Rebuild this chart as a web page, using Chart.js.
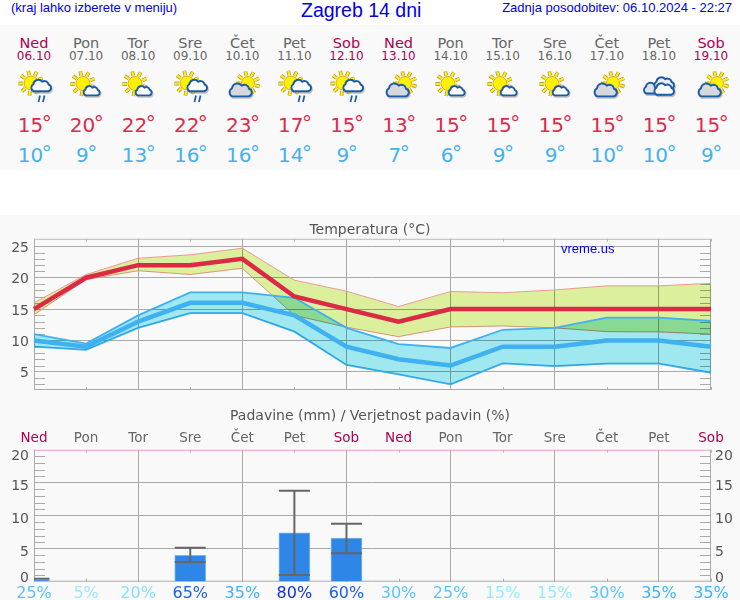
<!DOCTYPE html>
<html><head><meta charset="utf-8">
<script src="https://cdn.jsdelivr.net/npm/chart.js@4"></script>
<style>
html,body{margin:0;padding:0;background:#fff;width:740px;height:600px;overflow:hidden}
.a{position:absolute;white-space:nowrap}
.head{font-family:"Liberation Sans",Arial,sans-serif;color:#0000ee;font-size:13px;line-height:16px}
.c{width:80px;text-align:center;font-family:"DejaVu Sans",sans-serif}
.deg{position:relative;top:-2px;margin-left:-1.5px;margin-right:-1.3px}
canvas{position:absolute;left:0}
</style></head><body>
<div class="a" style="left:0;top:25px;width:740px;height:145px;background:#f9f9f9"></div>
<div class="a" style="left:0;top:215px;width:740px;height:385px;background:#f9f9f9"></div>
<div class="a head" style="left:11px;top:0">(kraj lahko izberete v meniju)</div>
<div class="a head" style="left:301px;top:-1px;font-size:19.5px;line-height:22px">Zagreb 14 dni</div>
<div class="a head" style="right:8px;top:0">Zadnja posodobitev: 06.10.2024 - 22:27</div>
<div id="hdr"></div>
<canvas id="t" width="740" height="175" style="top:215px"></canvas>
<canvas id="p" width="740" height="200" style="top:400px"></canvas>
<div class="a head" style="left:561px;top:241px">vreme.us</div>
<script>
const days=['Ned','Pon','Tor','Sre','Čet','Pet','Sob','Ned','Pon','Tor','Sre','Čet','Pet','Sob'];
const dates=['06.10','07.10','08.10','09.10','10.10','11.10','12.10','13.10','14.10','15.10','16.10','17.10','18.10','19.10'];
const icons=['r','s','s','r','c','r','r','c','s','s','s','c','o','c'];
const highs=[15,20,22,22,23,17,15,13,15,15,15,15,15,15];
const lows=[10,9,13,16,16,14,9,7,6,9,9,10,10,9];
const highUpper=[16,20.5,23.1,23.65,24.7,19.6,17.85,15.4,17.8,17.6,18.05,18.7,18.7,19.1];
const highLower=[14.1,19.7,21.1,20.5,21.5,14,12.1,10.6,12.15,12.3,12,11.4,11.35,11];
const lowUpper=[11,9.5,14,17.65,17.65,16.8,12,9.4,8.8,11.7,12,13.65,13.65,13.1];
const lowLower=[9,8.5,12,14.35,14.35,11.4,6.1,4.6,3,6.35,5.9,6.3,6.3,4.85];
const rainAmount=[0.3,0,0,4,0,7.4,6.6,0,0,0,0,0,0,0];
const rainHigh=[0.45,null,null,5.15,null,13.8,8.8,null,null,null,null,null,null,null];
const rainLow=[0.45,null,null,3,null,1,4.3,null,null,null,null,null,null,null];
const rainProb=[25,5,20,65,35,80,60,30,25,15,15,30,35,35];
const tempTicks=[5,10,15,20,25];
const rainTicks=[0,5,10,15,20];

const weekend='#b00050', plain='#666666', gridCol='#aaaaaa';
const dayColor=i=>(days[i]==='Ned'||days[i]==='Sob')?weekend:plain;
const probColor=v=>v>=80?'#1030dd':v>=60?'#1f5fe6':v>=35?'#3fb2fb':v>=25?'#57c6fb':v>=20?'#86def9':'#9ae9fb';

function cloud(cx,cy,s,fill){
  const d='M-9 6A5 5 0 0 1-9.5-3A6.2 6.2 0 0 1 1.5-6A5.2 5.2 0 0 1 9.5-2.5A4.4 4.4 0 0 1 9 6Z';
  return `<path d="${d}" transform="translate(${cx+.8} ${cy+1.4}) scale(${s})" fill="#888" opacity=".5" stroke="#888" stroke-width="${2/s}"/>`+
         `<path d="${d}" transform="translate(${cx} ${cy}) scale(${s})" fill="${fill}" stroke="#1a5ca8" stroke-width="${1.9/s}"/>`;
}
function sun(cx,cy,r){
  let out='';
  for(let k=0;k<9;k++){
    const an=k*2*Math.PI/9+.3, c=Math.cos(an), si=Math.sin(an);
    const l=`x1="${cx+c*(r+1)}" y1="${cy+si*(r+1)}" x2="${cx+c*(r+5.5)}" y2="${cy+si*(r+5.5)}"`;
    out+=`<line ${l} stroke="#9c8a30" stroke-width="3.6"/><line ${l} stroke="#ffec12" stroke-width="2.3"/>`;
  }
  return out+`<circle cx="${cx}" cy="${cy}" r="${r}" fill="#fff200" stroke="#eda70c" stroke-width="1"/>`;
}
function iconSvg(t){
  let b='';
  if(t==='r'){
    b=sun(19,16,7)+cloud(29,19.5,.8,'#fff')+
      '<path d="M26.5 35L28 28.5M31 35L32.5 28.5" stroke="#1a5ca8" stroke-width="1.7" fill="none"/>';
  }else if(t==='s'){
    b=sun(19,16.5,7)+cloud(27.5,24.5,.65,'#fff');
  }else if(t==='c'){
    b=sun(28,16,6.5)+cloud(20.5,24,.9,'#d6d8dc');
  }else{
    b=cloud(16,22,.75,'#dfe2e6')+cloud(27,17,.8,'#eef0f3')+cloud(27,23,.8,'#fff');
  }
  return `<svg width="44" height="40" viewBox="0 0 44 40" style="position:absolute;left:18px;top:0">${b}</svg>`;
}
const hdr=document.getElementById('hdr');
days.forEach((d,i)=>{
  const x=34+i*52.08-40;
  const el=(top,size,color,txt)=>`<div class="a c" style="left:${x}px;top:${top}px;font-size:${size}px;line-height:18px;color:${color}">${txt}</div>`;
  const t=v=>`${v}<span class="deg">°</span>`;
  hdr.insertAdjacentHTML('beforeend',
    el(34,14.5,dayColor(i),d)+
    el(46.5,12,dayColor(i),dates[i])+
    `<div class="a" style="left:${x}px;top:67px;width:80px;height:40px">${iconSvg(icons[i])}</div>`+
    el(115.5,20,'#dd2a48',t(highs[i]))+
    el(145.5,20,'#45b0f0',t(lows[i])));
});

const tickMarks={
  id:'tickMarks',
  beforeDatasetsDraw(chart,a,o){
    const {ctx,chartArea:c,scales:{x,y}}=chart;
    ctx.save();ctx.lineWidth=1;ctx.strokeStyle=gridCol;
    for(let v=Math.ceil(y.min);v<=Math.floor(y.max);v++){
      if(v%5===0||v===Math.floor(y.max)&&o.skipTop) continue;
      const p=Math.round(y.getPixelForValue(v))+.5;
      ctx.beginPath();ctx.moveTo(c.left,p);ctx.lineTo(c.left+11,p);
      ctx.moveTo(c.right-11,p);ctx.lineTo(c.right,p);ctx.stroke();
    }
    for(let i=1;i<days.length;i+=2){
      const p=Math.round(x.getPixelForValue(i))+.5;
      ctx.strokeStyle=gridCol;
      ctx.beginPath();ctx.moveTo(p,c.bottom-3);ctx.lineTo(p,c.bottom);ctx.stroke();
      ctx.strokeStyle=o.topColor;
      ctx.beginPath();ctx.moveTo(p,c.top);ctx.lineTo(p,c.top+3);ctx.stroke();
    }
    ctx.strokeStyle=gridCol;
    ctx.beginPath();
    ctx.moveTo(c.left+.5,c.top);ctx.lineTo(c.left+.5,c.bottom);
    ctx.moveTo(c.right-.5,c.top);ctx.lineTo(c.right-.5,c.bottom);
    ctx.moveTo(c.left,c.bottom-.5);ctx.lineTo(c.right,c.bottom-.5);ctx.stroke();
    ctx.strokeStyle=o.topColor;
    ctx.beginPath();ctx.moveTo(c.left,c.top+.5);ctx.lineTo(c.right,c.top+.5);ctx.stroke();
    ctx.restore();
  }
};
const blendBands={
  id:'blendBands',
  beforeDatasetsDraw(chart){chart.ctx.globalCompositeOperation='multiply';},
  beforeDatasetDraw(chart){chart.ctx.globalCompositeOperation='source-over';},
  afterDatasetDraw(chart){chart.ctx.globalCompositeOperation='multiply';},
  afterDatasetsDraw(chart){chart.ctx.globalCompositeOperation='source-over';}
};
const sideLabels={
  id:'sideLabels',
  afterDraw(chart,a,o){
    const {ctx,scales:{y},chartArea:c}=chart;
    ctx.save();ctx.fillStyle='#555';ctx.font='14px "DejaVu Sans"';ctx.textBaseline='middle';
    o.values.forEach(v=>{
      const p=y.getPixelForValue(v)+(o.shift[v]||0);
      ctx.textAlign='right';ctx.fillText(String(v),c.left-5,p);
      if(o.both){ctx.textAlign='left';ctx.fillText(String(v),c.right+4,p);}
    });
    ctx.restore();
  }
};
const gridOf=i=>i%2===0&&i>0&&i<days.length-1?gridCol:'rgba(0,0,0,0)';
const fixWidth=w=>s=>{s.width=w;s.paddingTop=0;s.paddingBottom=0;};
const setTicks=list=>s=>{s.ticks=list.map(v=>({value:v}));};
const titleFont={family:'"DejaVu Sans"',size:14,weight:'normal'};
const spacer=(min,max)=>({type:'linear',position:'right',min,max,display:true,
  border:{display:false},grid:{display:false,drawTicks:false},ticks:{display:false},afterFit:fixWidth(29)});

new Chart(document.getElementById('t'),{
  type:'line',
  data:{labels:days,datasets:[
    {data:highs,borderColor:'#dc2a46',borderWidth:4.5,pointRadius:0,fill:false,tension:0},
    {data:lows,borderColor:'#3fb0f0',borderWidth:4.5,pointRadius:0,fill:false,tension:0},
    {data:lowUpper,borderColor:'#3fb0f0',borderWidth:1.8,pointRadius:0,fill:'+1',backgroundColor:'#9fe8f0',tension:0},
    {data:lowLower,borderColor:'#3fb0f0',borderWidth:1.8,pointRadius:0,fill:false,tension:0},
    {data:highUpper,borderColor:'#eb9a94',borderWidth:1,pointRadius:0,fill:'+1',backgroundColor:'#dbef9c',tension:0},
    {data:highLower,borderColor:'#eb9a94',borderWidth:1,pointRadius:0,fill:false,tension:0}
  ]},
  options:{
    responsive:false,animation:false,events:[],
    plugins:{legend:{display:false},tooltip:{enabled:false},
      title:{display:true,text:'Temperatura (°C)',color:'#555',font:titleFont,padding:{top:6.5,bottom:0.5}},
      tickMarks:{topColor:'#bbbbbb',skipTop:true},
      sideLabels:{values:tempTicks,shift:{5:2,10:2,15:2,20:2,25:2},both:false}},
    scales:{
      x:{type:'category',offset:false,display:true,
        ticks:{display:false},border:{display:false},
        grid:{drawTicks:false,offset:false,color:c=>gridOf(c.index),lineWidth:1},
        afterFit:s=>{s.height=0;}},
      y:{type:'linear',min:2.1,max:26.2,
        border:{display:false},
        grid:{drawTicks:false,color:gridCol,lineWidth:1},
        ticks:{display:false},
        afterBuildTicks:setTicks(tempTicks),
        afterFit:fixWidth(34)},
      yr:spacer(2.1,26.2)
    }
  },
  plugins:[tickMarks,blendBands,sideLabels]
});

const whiskers={
  id:'whiskers',
  afterDatasetsDraw(chart){
    const {ctx,scales:{x,y},chartArea:c}=chart;
    ctx.save();ctx.strokeStyle='#666';ctx.lineWidth=2;
    ctx.beginPath();ctx.rect(c.left,c.top,c.width,c.height);ctx.clip();
    rainHigh.forEach((h,i)=>{
      if(h===null) return;
      const px=x.getPixelForValue(i),hi=y.getPixelForValue(h),lo=y.getPixelForValue(rainLow[i]);
      ctx.beginPath();
      ctx.moveTo(px,hi);ctx.lineTo(px,lo);
      ctx.moveTo(px-15.5,hi);ctx.lineTo(px+15.5,hi);
      ctx.moveTo(px-15.5,lo);ctx.lineTo(px+15.5,lo);
      ctx.stroke();
    });
    ctx.restore();
  }
};
new Chart(document.getElementById('p'),{
  type:'bar',
  data:{datasets:[{data:rainAmount,xAxisID:'x',yAxisID:'y',backgroundColor:'#2e86e6',
    borderColor:'#7fb5ef',borderWidth:{left:1,right:1,top:1,bottom:0},barThickness:31}]},
  options:{
    responsive:false,animation:false,events:[],
    plugins:{legend:{display:false},tooltip:{enabled:false},
      title:{display:true,text:'Padavine (mm) / Verjetnost padavin (%)',color:'#555',font:titleFont,padding:{top:8,bottom:2}},
      tickMarks:{topColor:'#e6a3c0',skipTop:false},
      sideLabels:{values:rainTicks,shift:{0:-3.2,5:3.2,10:3.2,15:3.2,20:6.8},both:true}},
    scales:{
      x:{type:'category',position:'bottom',offset:false,labels:rainProb.map(v=>v+'%'),
        border:{display:false},
        grid:{drawTicks:false,offset:false,color:c=>gridOf(c.index),lineWidth:1},
        ticks:{autoSkip:false,maxRotation:0,padding:2.5,font:{family:'"DejaVu Sans"',size:16},
          color:c=>probColor(rainProb[c.index])},
        afterFit:s=>{s.height=18.3;}},
      x2:{type:'category',position:'top',offset:false,labels:days,
        border:{display:false},grid:{display:false,drawTicks:false},
        ticks:{autoSkip:false,maxRotation:0,padding:3,font:{family:'"DejaVu Sans"',size:13.5},
          color:c=>dayColor(c.index)},
        afterFit:s=>{s.height=23;}},
      y:{type:'linear',min:0,max:20,
        border:{display:false},
        grid:{drawTicks:false,color:c=>(c.tick&&(c.tick.value===0||c.tick.value===20))?'rgba(0,0,0,0)':gridCol,lineWidth:1},
        ticks:{display:false},
        afterBuildTicks:setTicks(rainTicks),
        afterFit:fixWidth(34)},
      yr:spacer(0,20)
    }
  },
  plugins:[tickMarks,whiskers,sideLabels]
});
</script>
</body></html>
